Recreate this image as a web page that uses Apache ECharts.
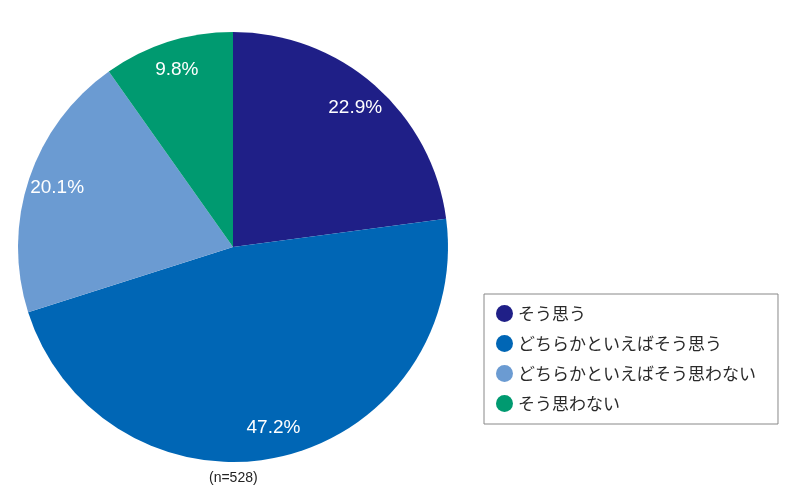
<!DOCTYPE html>
<html>
<head>
<meta charset="utf-8">
<script src="https://cdn.jsdelivr.net/npm/echarts@6/dist/echarts.min.js"></script>
<style>
html, body { margin: 0; padding: 0; background: #fff; }
#pie { width: 800px; height: 504px; }
</style>
</head>
<body>
<div id="pie"></div>
<script>
var categories = ['そう思う', 'どちらかといえばそう思う', 'どちらかといえばそう思わない', 'そう思わない'];
var shares = [22.9, 47.2, 20.1, 9.8];
var colors = ['#1f1f87', '#0066b5', '#6b9bd2', '#009a70'];
var sampleNote = '(n=528)';

var getPieData = function () {
    var data = [];
    categories.forEach(function (name, i) {
        data.push({ name: name, value: shares[i], itemStyle: { color: colors[i] } });
    });
    return data;
};

var myChart = echarts.init(document.getElementById('pie'), null, { renderer: 'canvas' });
var option = {
    animation: false,
    textStyle: {
        fontFamily: '"Liberation Sans", "Noto Sans CJK JP", sans-serif'
    },
    graphic: [{
        type: 'text',
        left: 209,
        top: 471,
        style: {
            text: sampleNote,
            fill: '#222',
            font: '14px "Liberation Sans", sans-serif'
        }
    }],
    legend: {
        orient: 'vertical',
        left: 484,
        top: 294,
        padding: [11, 22, 12, 12],
        itemWidth: 17,
        itemHeight: 17,
        itemGap: 13,
        icon: 'circle',
        borderColor: '#888',
        borderWidth: 1,
        borderRadius: 0,
        data: categories,
        textStyle: {
            fontSize: 17,
            color: '#2a2a2a',
            fontFamily: '"Noto Sans CJK JP", sans-serif'
        }
    },
    series: [{
        type: 'pie',
        center: [233, 247],
        radius: [0, 215],
        startAngle: 90,
        clockwise: true,
        silent: true,
        label: { show: false },
        labelLine: { show: false },
        data: getPieData()
    }, {
        // transparent ring only used to place the percentage labels
        type: 'pie',
        center: [233, 247],
        radius: [150, 215],
        startAngle: 90,
        clockwise: true,
        silent: true,
        legendHoverLink: false,
        itemStyle: { color: 'rgba(0,0,0,0)' },
        label: {
            show: true,
            position: 'inside',
            formatter: function (p) { return p.value.toFixed(1) + '%'; },
            color: '#fff',
            fontSize: 19,
            fontFamily: '"Liberation Sans", sans-serif'
        },
        labelLine: { show: false },
        data: categories.map(function (name, i) {
            return { name: name + ' ', value: shares[i] };
        })
    }]
};
myChart.setOption(option);
window.onresize = function () {
    myChart.resize();
};
</script>
</body>
</html>
